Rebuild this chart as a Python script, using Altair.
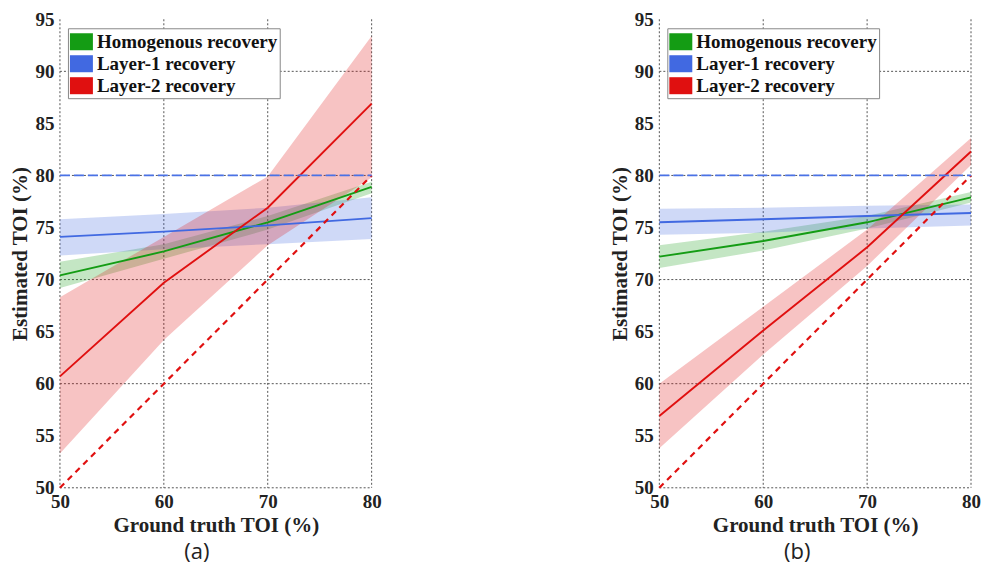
import altair as alt
import pandas as pd

# ---------------- data ----------------
x_vals = [50, 60, 70, 80]
series = ["Homogenous recovery", "Layer-1 recovery", "Layer-2 recovery"]
colors = ["#149c14", "#4169e1", "#e01010"]

# panel (a)
a_homo = [70.4, 72.7, 75.5, 78.9]
a_homo_lo = [69.2, 72.0, 74.8, 78.3]
a_homo_hi = [71.7, 73.4, 76.1, 79.4]
a_l1 = [74.1, 74.6, 75.2, 75.9]
a_l1_lo = [72.3, 72.9, 73.4, 73.9]
a_l1_hi = [75.8, 76.3, 76.9, 77.9]
a_l2 = [60.7, 69.7, 76.9, 86.9]
a_l2_lo = [53.3, 64.2, 73.3, 79.8]
a_l2_hi = [68.3, 74.1, 79.9, 93.4]

# panel (b)
b_homo = [72.2, 73.7, 75.5, 77.9]
b_homo_lo = [71.1, 72.8, 74.9, 77.4]
b_homo_hi = [73.3, 74.6, 76.1, 78.4]
b_l1 = [75.5, 75.8, 76.1, 76.4]
b_l1_lo = [74.3, 74.5, 74.9, 75.2]
b_l1_hi = [76.8, 76.9, 77.1, 77.2]
b_l2 = [56.9, 65.1, 73.1, 82.3]
b_l2_lo = [53.8, 62.8, 71.3, 81.0]
b_l2_hi = [60.0, 67.4, 74.8, 83.6]

identity_x = [50, 80]
identity_y = [50, 80]
ref_x = [50, 80]
ref_y = [80, 80]

x_ticks = [50, 60, 70, 80]
y_ticks = [50, 55, 60, 65, 70, 75, 80, 85, 90, 95]
x_grid = [50, 60, 70, 80]
y_grid = [50, 60, 70, 80, 90]

W, H = 312, 469
FONT = "Liberation Serif"
TXT = "#222222"


def make_df(means, los, his):
    rows = []
    for s, m, lo, hi in zip(series, means, los, his):
        for x, a, b, c in zip(x_vals, m, lo, hi):
            rows.append({"x": x, "series": s, "y": a, "lo": b, "hi": c})
    return pd.DataFrame(rows)


def panel(df, label, dx):
    xscale = alt.Scale(domain=[50, 80], nice=False, zero=False)
    yscale = alt.Scale(domain=[50, 95], nice=False, zero=False)
    xaxis = alt.Axis(values=x_ticks, title="Ground truth TOI (%)", grid=False, domain=False,
                     ticks=False, labelFont=FONT, labelFontWeight="bold", labelFontSize=19,
                     labelColor=TXT, labelPadding=5, titleFont=FONT, titleFontWeight="bold",
                     titleFontSize=21, titleColor=TXT, titlePadding=3, labelFlush=False)
    yaxis = alt.Axis(values=y_ticks, title="Estimated TOI (%)", grid=False, domain=False,
                     ticks=False, labelFont=FONT, labelFontWeight="bold", labelFontSize=19,
                     labelColor=TXT, labelPadding=6, titleFont=FONT, titleFontWeight="bold",
                     titleFontSize=21, titleColor=TXT, titlePadding=4, labelFlush=False)

    def X(f):
        return alt.X(f, type="quantitative", scale=xscale, axis=xaxis)

    def Y(f):
        return alt.Y(f, type="quantitative", scale=yscale, axis=yaxis)

    gx = alt.Chart(pd.DataFrame({"gx": x_grid})).mark_rule(
        color="#555555", strokeDash=[2, 2], strokeWidth=1
    ).encode(x=X("gx"), y=alt.value(0), y2=alt.value(H))
    gy = alt.Chart(pd.DataFrame({"gy": y_grid})).mark_rule(
        color="#555555", strokeDash=[2, 2], strokeWidth=1
    ).encode(y=Y("gy"), x=alt.value(0), x2=alt.value(W))

    legend = alt.Legend(
        title=None, orient="none", legendX=8, legendY=9, direction="vertical",
        fillColor="white", strokeColor="#888888", padding=2, rowPadding=0,
        symbolType="M-1,-0.74H1V0.74H-1Z", symbolSize=529, symbolOpacity=1,
        symbolStrokeWidth=0, labelFont=FONT, labelFontWeight="bold", labelFontSize=19,
        labelColor="#111111", labelOffset=4, labelLimit=400,
    )
    fill_scale = alt.Scale(domain=series, range=colors)
    bands = alt.Chart(df).mark_area(opacity=0.25).encode(
        x=X("x"), y=Y("lo"), y2="hi",
        fill=alt.Fill("series:N", scale=fill_scale, legend=legend),
    )
    lines = alt.Chart(df).mark_line(strokeWidth=1.9).encode(
        x=X("x"), y=Y("y"),
        stroke=alt.Stroke("series:N", scale=alt.Scale(domain=series, range=colors), legend=None),
    )
    ident = alt.Chart(pd.DataFrame({"ix": identity_x, "iy": identity_y})).mark_line(
        color="#e01010", strokeDash=[6, 5], strokeWidth=2.2
    ).encode(x=X("ix"), y=Y("iy"))
    ref = alt.Chart(pd.DataFrame({"rx": ref_x, "ry": ref_y})).mark_line(
        color="#4a72e6", strokeDash=[10, 4], strokeWidth=1.8
    ).encode(x=X("rx"), y=Y("ry"))

    return alt.layer(gx, gy, bands, lines, ident, ref).properties(
        width=W, height=H,
        title=alt.TitleParams(text=label, orient="bottom", font="Open Sans", fontSize=22,
                              fontWeight="normal", color=TXT, dx=dx, offset=6),
    )


df_a = make_df([a_homo, a_l1, a_l2], [a_homo_lo, a_l1_lo, a_l2_lo], [a_homo_hi, a_l1_hi, a_l2_hi])
df_b = make_df([b_homo, b_l1, b_l2], [b_homo_lo, b_l1_lo, b_l2_lo], [b_homo_hi, b_l1_hi, b_l2_hi])

chart = alt.hconcat(
    panel(df_a, "(a)", -19), panel(df_b, "(b)", -18), spacing=228
).resolve_scale(fill="independent", stroke="independent").properties(
    padding={"left": 2, "top": 2, "right": 0, "bottom": 5}
).configure_view(stroke=None)

chart.save("out.html", embed_options={"renderer": "svg", "actions": False})
